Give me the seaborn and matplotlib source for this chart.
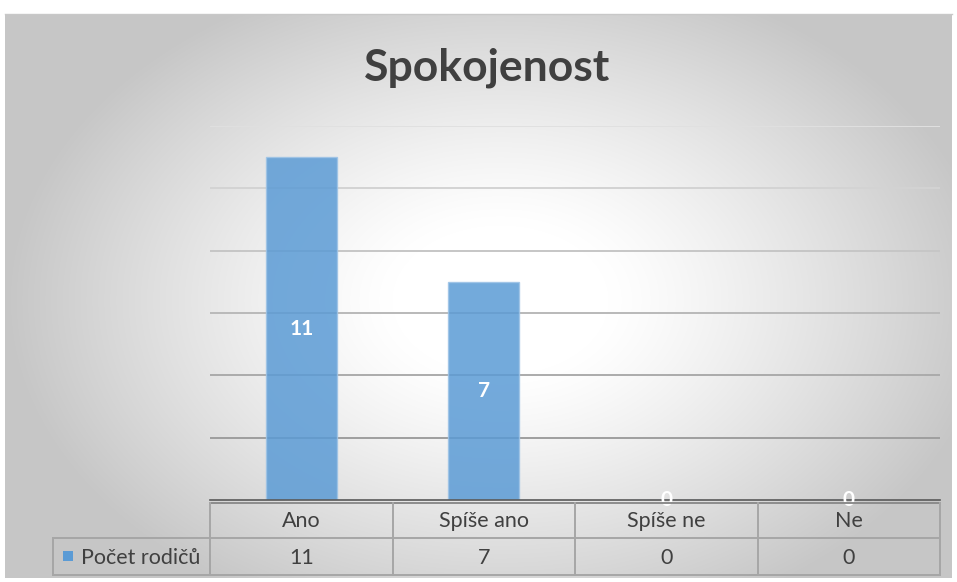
import numpy as np
import pandas as pd
import matplotlib
matplotlib.use('Agg')
import matplotlib.pyplot as plt
import seaborn as sns
from matplotlib.lines import Line2D
from matplotlib.patches import Rectangle

# ---- data ----
categories = ["Ano", "Spíše ano", "Spíše ne", "Ne"]
values = [11, 7, 0, 0]
series_name = "Počet rodičů"
title = "Spokojenost"
y_max = 12
y_step = 2

plt.rcParams['font.family'] = ['Lato', 'DejaVu Sans']

W, H = 957, 582
fig = plt.figure(figsize=(W / 100, H / 100), dpi=100)
fig.patch.set_facecolor('white')


def fx(px):
    return px / W


def fy(py):
    return 1 - py / H


# ---- background panel with radial gradient ----
px0, py0, px1, py1 = 5, 14, 952, 578
bg = fig.add_axes([fx(px0), fy(py1), (px1 - px0) / W, (py1 - py0) / H])
yy, xx = np.mgrid[0:py1 - py0, 0:px1 - px0]
cx, cy = 500 - px0, 300 - py0
d = np.sqrt(((xx - cx) / 490.0) ** 2 + ((yy - cy) / 340.0) ** 2)
v = 1 - 0.22 * np.clip((d - 0.22) / 0.78, 0, 1) ** 1.2
bg.imshow(np.dstack([v, v, v]), aspect='auto', interpolation='bilinear')
bg.set_axis_off()
bg.set_zorder(-5)
fig.add_artist(Line2D([fx(px0), fx(px1)], [fy(py0), fy(py0)], color='#C8C8C8', lw=1))

# ---- main bar axes ----
ax = fig.add_axes([fx(210), fy(500), 730 / W, 374 / H])
ax.set_facecolor('none')
df = pd.DataFrame({'kategorie': categories, 'pocet': values})
sns.barplot(data=df, x='kategorie', y='pocet', color='#5B9BD5', width=0.39,
            saturation=1, alpha=0.85, edgecolor='#9DC3E6', linewidth=1, ax=ax)
ax.set_ylim(0, y_max)
ax.set_xlim(-0.5, len(categories) - 0.5)
ax.set_yticks(np.arange(y_step, y_max + 1, y_step))
ax.yaxis.grid(True, lw=1.4)
ax.xaxis.grid(False)
ax.set_axisbelow(True)
grid_lines = ax.get_ygridlines()
ng = len(grid_lines)
for k, gl in enumerate(grid_lines):
    t = k / max(ng - 1, 1)
    g = 0.62 + (0.88 - 0.62) * t
    gl.set_color((g, g, g))
ax.tick_params(left=False, bottom=False, labelleft=False, labelbottom=False)
ax.set_xlabel('')
ax.set_ylabel('')
for s in ['left', 'right', 'top']:
    ax.spines[s].set_visible(False)
ax.spines['bottom'].set_color('#595959')
ax.spines['bottom'].set_linewidth(1.2)
ax.bar_label(ax.containers[0], labels=[str(x) for x in values], label_type='center',
             color='white', fontweight='bold', fontsize=15)

# ---- title ----
fig.text(fx(487), fy(68), title, ha='center', va='center', fontsize=32,
         fontweight='bold', color='#404040')

# ---- data table overlay ----
ov = fig.add_axes([0, 0, 1, 1])
ov.set_xlim(0, W)
ov.set_ylim(H, 0)
ov.set_axis_off()
ov.patch.set_alpha(0)

tl, tr = 210, 940
leg_l = 53
r0, r1, r2 = 502.5, 538, 575
n = len(categories)
colw = (tr - tl) / n
lc = '#A6A6A6'
lw = 1.4
ov.add_line(Line2D([tl, tr], [r0, r0], color='#8C8C8C', lw=lw))
ov.add_line(Line2D([leg_l, tr], [r1, r1], color=lc, lw=lw))
ov.add_line(Line2D([leg_l, tr], [r2, r2], color=lc, lw=lw))
ov.add_line(Line2D([leg_l, leg_l], [r1, r2], color=lc, lw=lw))
for i in range(n + 1):
    x = tl + i * colw
    ov.add_line(Line2D([x, x], [r0, r2], color=lc, lw=lw))

for i, (cat, val) in enumerate(zip(categories, values)):
    xc = tl + (i + 0.5) * colw
    ov.text(xc, (r0 + r1) / 2 + 1, cat, ha='center', va='center', fontsize=15.5, color='#404040')
    ov.text(xc, (r1 + r2) / 2 + 1, str(val), ha='center', va='center', fontsize=15.5, color='#404040')

ov.add_patch(Rectangle((63, 551), 10, 10, facecolor='#5B9BD5', edgecolor='none'))
ov.text(81, (r1 + r2) / 2 + 1, series_name, ha='left', va='center', fontsize=15.5, color='#404040')

fig.savefig('out.png', dpi=100)
